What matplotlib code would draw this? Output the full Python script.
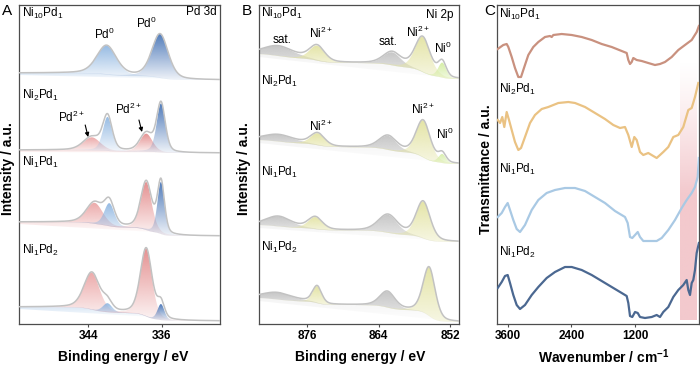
import numpy as np
import matplotlib
matplotlib.use('Agg')
import matplotlib.pyplot as plt
from matplotlib.colors import to_rgb

plt.rcParams['font.family'] = ['Liberation Sans', 'DejaVu Sans']
plt.rcParams['mathtext.fontset'] = 'custom'
plt.rcParams['mathtext.rm'] = 'Liberation Sans'
plt.rcParams['mathtext.it'] = 'Liberation Sans:italic'
plt.rcParams['mathtext.bf'] = 'Liberation Sans:bold'

# ---------------- data ----------------
samples = [r'Ni$\mathregular{_{10}}$Pd$\mathregular{_1}$',
           r'Ni$\mathregular{_2}$Pd$\mathregular{_1}$',
           r'Ni$\mathregular{_1}$Pd$\mathregular{_1}$',
           r'Ni$\mathregular{_1}$Pd$\mathregular{_2}$']

# Panel A: Pd 3d fitted components (centre eV, height a.u., FWHM eV)
pd_components = ['Pd2+ 3d3/2', 'Pd0 3d3/2', 'Pd2+ 3d5/2', 'Pd0 3d5/2']
pd_colors = ['#eaa0a0', '#8ab3e0', '#e28585', '#3c6cb2']
pd_center = [[343.5, 342.0, 337.7, 336.2],
             [343.6, 341.9, 337.7, 336.1],
             [343.3, 341.7, 337.7, 336.1],
             [343.6, 341.9, 337.7, 336.1]]
pd_height = [[0, 29, 0, 44],
             [13, 34, 18, 49],
             [21, 23, 48, 52],
             [37, 9, 68, 16]]
pd_fwhm = [[2.0, 2.5, 2.0, 2.1],
           [2.2, 1.2, 1.6, 1.1],
           [2.1, 1.3, 1.4, 0.9],
           [2.0, 1.2, 1.5, 0.9]]
pd_bg_high = [251, 174, 102, 17]   # background at high binding energy
pd_bg_low = [244, 171, 88, 3]      # background at low binding energy
pd_band = ['#8ab3e0', '#eaa0a0', '#eaa0a0', '#8ab3e0']

# Panel B: Ni 2p fitted components
ni_components = ['sat. 2p1/2', 'Ni2+ 2p1/2', 'sat. 2p3/2', 'Ni2+ 2p3/2', 'Ni0 2p3/2']
ni_colors = ['#c4c4c4', '#e3e3a2', '#c4c4c4', '#e3e3a2', '#d3eda0']
ni_center = [[880.8, 874.3, 861.7, 856.6, 853.3],
             [880.8, 874.2, 862.4, 856.5, 853.3],
             [880.8, 874.6, 862.4, 856.5, 853.3],
             [881.0, 874.3, 862.5, 855.5, 853.3]]
ni_height = [[10, 15, 13, 35, 15],
             [7, 12, 14, 37, 9],
             [10, 12, 18, 37, 0],
             [7, 17, 16, 49, 0]]
ni_fwhm = [[6.0, 3.0, 3.5, 3.0, 1.6],
           [6.0, 2.8, 3.5, 2.8, 1.5],
           [5.0, 2.8, 3.8, 2.8, 1.5],
           [6.0, 1.8, 3.0, 2.4, 1.5]]
ni_bg_high = [270, 184, 99, 26]
ni_bg_low = [245, 160, 82, 2]

# Panel C: FTIR (wavenumber cm-1, transmittance a.u.)
ftir_colors = ['#c9917f', '#eac283', '#a9c9e4', '#4b6891']
wn_10 = [3795, 3689, 3625, 3594, 3530, 3468, 3405, 3354, 3292, 3216, 3122, 3027, 2901, 2806,
         2774, 2744, 2585, 2396, 2207, 2018, 1829, 1640, 1451, 1357, 1326, 1294, 1262, 1232,
         1168, 1073, 949, 822, 727, 633, 506, 381, 255, 128, 33, -8]
tr_10 = [275, 279, 280, 277, 267, 256, 247, 247, 257, 269, 277, 282, 287, 288,
         287, 289, 290, 289, 287, 284, 280, 277, 273, 271, 264, 260, 262, 266,
         264, 263, 261, 259, 260, 262, 267, 274, 279, 284, 292, 298]
wn_21 = [3795, 3751, 3708, 3670, 3625, 3581, 3530, 3468, 3405, 3354, 3279, 3184, 3090, 2963,
         2838, 2649, 2460, 2333, 2144, 1955, 1767, 1610, 1483, 1389, 1326, 1262, 1213, 1168,
         1105, 1043, 949, 854, 790, 727, 665, 570, 476, 381, 287, 192, 128, 66, 3]
tr_21 = [204, 201, 207, 197, 212, 204, 194, 182, 174, 176, 187, 201, 209, 215,
         217, 221, 222, 221, 217, 211, 205, 199, 196, 197, 189, 177, 187, 184,
         172, 169, 171, 168, 166, 169, 172, 177, 187, 189, 197, 214, 216, 227, 241]
wn_11 = [3795, 3719, 3657, 3606, 3562, 3500, 3436, 3373, 3279, 3152, 3027, 2869, 2712, 2523,
         2334, 2145, 1956, 1767, 1578, 1389, 1338, 1294, 1251, 1199, 1148, 1105, 1043, 916,
         790, 695, 570, 444, 317, 223, 128, 66, 15, -8]
tr_11 = [107, 111, 117, 121, 114, 104, 95, 92, 99, 114, 124, 131, 134, 136,
         136, 133, 127, 121, 113, 107, 101, 87, 86, 89, 92, 87, 83, 83,
         83, 86, 94, 104, 116, 124, 131, 137, 147, 166]
wn_12 = [3795, 3719, 3657, 3606, 3562, 3500, 3436, 3373, 3279, 3152, 3027, 2869, 2712, 2523,
         2396, 2207, 2018, 1829, 1640, 1451, 1357, 1326, 1294, 1251, 1199, 1148, 1105, 1011,
         884, 790, 727, 665, 570, 476, 381, 287, 223, 192, 160, 128, 98, 66, 34, -8]
tr_12 = [36, 42, 48, 49, 41, 29, 19, 15, 19, 29, 37, 46, 52, 57,
         57, 54, 49, 43, 37, 31, 28, 21, 8, 7, 12, 11, 7, 6,
         7, 9, 7, 12, 17, 27, 34, 39, 44, 34, 29, 41, 44, 54, 71, 81]
ftir_wn = [wn_10, wn_21, wn_11, wn_12]
ftir_tr = [tr_10, tr_21, tr_11, tr_12]
highlight_wn = (349, 28)
highlight_tr = (4, 264)


# ---------------- helpers ----------------
def pvoigt(x, c, h, w, eta=0.35):
    d = (x - c) / w
    return h * ((1 - eta) * np.exp(-4 * np.log(2) * d ** 2) + eta / (1 + 4 * d ** 2))


def shirley(x, total, high, low):
    # x ascending; background rises toward high binding energy
    cum = np.concatenate([[0], np.cumsum(0.5 * (total[1:] + total[:-1]) * np.diff(x))])
    return low + (high - low) * cum / cum[-1]


def grad_fill(ax, x, lo, hi, color, a_top=0.9, a_bot=0.08, z=2):
    mask = (hi - lo) > 0.05
    if not mask.any():
        return
    poly = ax.fill_between(x, lo, hi, facecolor='none', edgecolor='none', linewidth=0)
    y0 = lo[mask].min()
    y1 = hi[mask].max()
    n = 256
    t = np.linspace(0, 1, n)[:, None]
    rgba = np.zeros((n, 1, 4))
    rgba[..., :3] = to_rgb(color)
    rgba[..., 3] = a_bot + (a_top - a_bot) * t
    xs = x[mask]
    im = ax.imshow(rgba, extent=[xs.min(), xs.max(), y0, y1], origin='lower',
                   aspect='auto', interpolation='bilinear', zorder=z)
    im.set_clip_path(poly.get_paths()[0], transform=ax.transData)


def style_axis(ax, xlim, ticks):
    ax.set_xlim(*xlim)
    ax.set_ylim(0, 319)
    ax.set_yticks([])
    ax.set_xticks(ticks)
    ax.set_xticklabels([str(t) for t in ticks], fontsize=8.5, fontweight='bold')
    ax.tick_params(axis='x', direction='out', length=2.5, width=0.8, color='#4d4d4d', pad=2)
    for s in ax.spines.values():
        s.set_color('#4d4d4d')
        s.set_linewidth(0.9)


def draw_xps(ax, x, centers, heights, fwhms, colors, bg_high, bg_low, band_color, d_band,
             band_alpha, a_top, a_bot):
    comps = [pvoigt(x, c, h, w) for c, h, w in zip(centers, heights, fwhms)]
    total = np.sum(comps, axis=0)
    bg = shirley(x, total, bg_high, bg_low)
    chord = bg_low + (bg_high - d_band - bg_low) * (x - x[0]) / (x[-1] - x[0])
    lower = np.minimum(chord, bg)
    grad_fill(ax, x, lower, bg, band_color, a_top=band_alpha, a_bot=0.04, z=1.5)
    for k, comp in enumerate(comps):
        grad_fill(ax, x, bg, bg + comp, colors[k], a_top=a_top, a_bot=a_bot, z=2 + 0.1 * k)
    ax.plot(x, bg + total, color='#c2c2c2', lw=1.1, zorder=5)


fig = plt.figure(figsize=(7.0, 3.68), dpi=100)
H = 368.0
W = 700.0
axA = fig.add_axes([19 / W, 1 - 324 / H, 201 / W, 319 / H])
axB = fig.add_axes([259 / W, 1 - 324 / H, 200 / W, 319 / H])
axC = fig.add_axes([497 / W, 1 - 324 / H, 202 / W, 319 / H])

# ---------------- Panel A ----------------
xA = np.linspace(329.7, 351.5, 900)
for i in range(4):
    draw_xps(axA, xA, pd_center[i], pd_height[i], pd_fwhm[i], pd_colors,
             pd_bg_high[i], pd_bg_low[i], pd_band[i], 2, 0.3, 0.9, 0.08)
style_axis(axA, (351.5, 329.7), [344, 336])

label_y = [0.972, 0.715, 0.505, 0.232]
for s, fy in zip(samples, label_y):
    axA.text(0.015, fy, s, transform=axA.transAxes, fontsize=8.5, ha='left', va='center')
axA.text(0.985, 0.978, 'Pd 3d', transform=axA.transAxes, fontsize=8.5, ha='right', va='center')
axA.text(342.27, 290, r'Pd$\mathregular{^0}$', fontsize=8.5, ha='center', va='center', zorder=6)
axA.text(337.73, 301, r'Pd$\mathregular{^0}$', fontsize=8.5, ha='center', va='center', zorder=6)
axA.text(345.84, 207, r'Pd$\mathregular{^{2+}}$', fontsize=8.5, ha='center', va='center', zorder=6)
axA.text(339.68, 215, r'Pd$\mathregular{^{2+}}$', fontsize=8.5, ha='center', va='center', zorder=6)
arrow = dict(arrowstyle='-|>', color='black', lw=0.8, mutation_scale=6, shrinkA=0, shrinkB=0)
axA.annotate('', xy=(344.0, 187), xytext=(344.32, 199), arrowprops=arrow, zorder=6)
axA.annotate('', xy=(338.16, 192), xytext=(338.49, 204), arrowprops=arrow, zorder=6)

# ---------------- Panel B ----------------
xB = np.linspace(850.5, 884.06, 900)
for i in range(4):
    draw_xps(axB, xB, ni_center[i], ni_height[i], ni_fwhm[i], ni_colors,
             ni_bg_high[i], ni_bg_low[i], '#c4c4c4', 3, 0.18, 0.95, 0.3)
style_axis(axB, (884.06, 850.5), [876, 864, 852])

label_yB = [0.972, 0.759, 0.476, 0.241]
for s, fy in zip(samples, label_yB):
    axB.text(0.01, fy, s, transform=axB.transAxes, fontsize=8.5, ha='left', va='center')
axB.text(0.97, 0.969, 'Ni 2p', transform=axB.transAxes, fontsize=8.5, ha='right', va='center')
for (xx, yy, t) in [(880.2, 284, 'sat.'), (873.65, 291, r'Ni$\mathregular{^{2+}}$'),
                    (862.4, 282, 'sat.'), (857.37, 292, r'Ni$\mathregular{^{2+}}$'),
                    (853.17, 276, r'Ni$\mathregular{^0}$'),
                    (873.65, 198, r'Ni$\mathregular{^{2+}}$'), (856.53, 215, r'Ni$\mathregular{^{2+}}$'),
                    (852.84, 190, r'Ni$\mathregular{^0}$')]:
    axB.text(xx, yy, t, fontsize=8.5, ha='center', va='center', zorder=6)

# ---------------- Panel C ----------------
n = 256
t = np.linspace(0, 1, n)[:, None]
y_vals = highlight_tr[0] + t * (highlight_tr[1] - highlight_tr[0])
alpha = 0.6 * np.clip((highlight_tr[1] - y_vals) / (highlight_tr[1] - 130), 0, 1) ** 1.2
rgba = np.zeros((n, 1, 4))
rgba[..., :3] = to_rgb('#eba5ac')
rgba[..., 3] = alpha
axC.imshow(rgba, extent=[min(highlight_wn), max(highlight_wn), highlight_tr[0], highlight_tr[1]],
           origin='lower', aspect='auto', interpolation='bilinear', zorder=0.5)
for wn, tr, col in zip(ftir_wn, ftir_tr, ftir_colors):
    axC.plot(wn, tr, color=col, lw=1.6, zorder=3, solid_joinstyle='round')
style_axis(axC, (3808, -10), [3600, 2400, 1200])
label_yC = [0.969, 0.734, 0.483, 0.223]
for s, fy in zip(samples, label_yC):
    axC.text(0.01, fy, s, transform=axC.transAxes, fontsize=8.5, ha='left', va='center')

# ---------------- figure texts ----------------
for xp, letter in [(7, 'A'), (247, 'B'), (490, 'C')]:
    fig.text(xp / W, 1 - 11 / H, letter, fontsize=11, ha='center', va='center')
for xp, lab in [(8, 'Intensity / a.u.'), (244, 'Intensity / a.u.'), (486, 'Transmittance / a.u.')]:
    fig.text(xp / W, 1 - 169 / H, lab, fontsize=10, fontweight='bold', rotation=90,
             ha='center', va='center')
for xp, lab in [(123, 'Binding energy / eV'), (360, 'Binding energy / eV'),
                (604, r'Wavenumber / cm$\mathbf{^{-1}}$')]:
    fig.text(xp / W, 1 - 357 / H, lab, fontsize=10, fontweight='bold', ha='center', va='center')

fig.savefig('out.png', dpi=100)
